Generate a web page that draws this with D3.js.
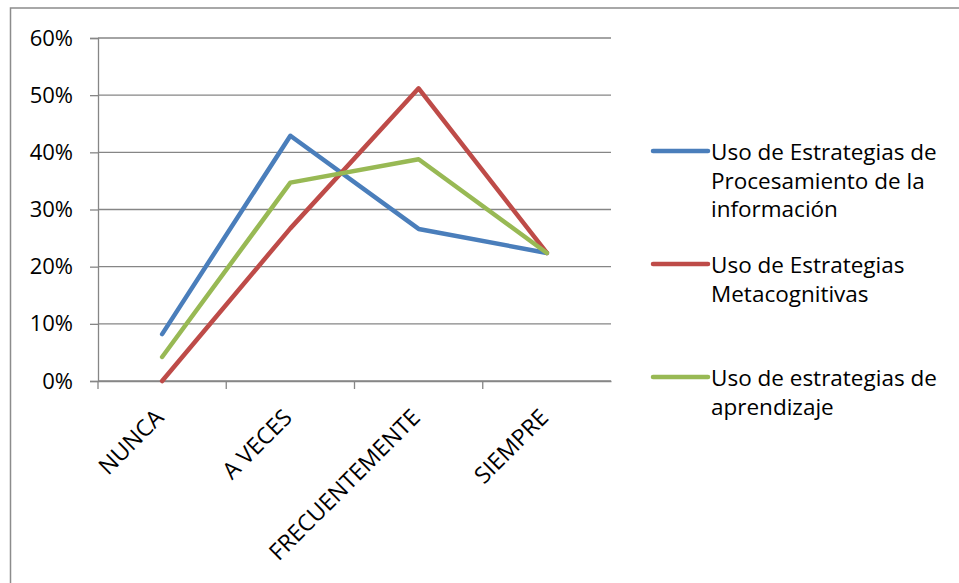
<!DOCTYPE html>
<html>
<head>
<meta charset="utf-8">
<script src="https://cdn.jsdelivr.net/npm/d3@7"></script>
<style>
  body { margin: 0; background: #fff; }
  svg { display: block; font-family: "Open Sans", sans-serif; }
</style>
</head>
<body>
<div></div>
<script>
var categories = ["NUNCA", "A VECES", "FRECUENTEMENTE", "SIEMPRE"];
var seriesNames = [
    ["Uso de Estrategias de", "Procesamiento de la", "información"],
    ["Uso de Estrategias", "Metacognitivas"],
    ["Uso de estrategias de", "aprendizaje"]
];
var procesamiento = [0.082, 0.429, 0.266, 0.224];
var metacognitivas = [0.0, 0.267, 0.512, 0.224];
var aprendizaje = [0.042, 0.347, 0.388, 0.224];
var yTicks = [0, 0.1, 0.2, 0.3, 0.4, 0.5, 0.6];
var colors = ["#4a7ebb", "#be4b48", "#98b954"];

var series = [procesamiento, metacognitivas, aprendizaje];

var width = 959;
var height = 583;
var plotLeft = 98, plotRight = 611, plotTop = 38, plotBottom = 381;

var svg = d3.select('div')
    .append('svg')
    .attr('width', width)
    .attr('height', height);

// marco del grafico
svg.append("rect")
    .attr("x", 10.5)
    .attr("y", 8)
    .attr("width", 1000)
    .attr("height", 700)
    .attr("fill", "none")
    .attr("stroke", "#8c8c8c")
    .attr("stroke-width", 1.5);

// escalas
var xscale = d3.scaleBand()
    .domain(categories)
    .range([plotLeft, plotRight]);

var yscale = d3.scaleLinear()
    .domain([0, 0.6])
    .range([plotBottom, plotTop]);

// lineas de cuadricula
svg.append("g")
    .selectAll("line")
    .data(yTicks)
    .enter()
    .append("line")
    .attr("x1", plotLeft)
    .attr("x2", plotRight)
    .attr("y1", d => yscale(d))
    .attr("y2", d => yscale(d))
    .attr("stroke", "#868686")
    .attr("stroke-width", 1.3);

// eje y
var yaxis = d3.axisLeft(yscale)
    .tickValues(yTicks)
    .tickFormat(d3.format(".0%"))
    .tickSize(8)
    .tickPadding(17);

var gy = svg.append("g")
    .attr("transform", "translate(" + plotLeft + ",0)")
    .call(yaxis);
gy.select(".domain").attr("stroke", "#868686").attr("stroke-width", 1.3);
gy.selectAll(".tick line").attr("stroke", "#868686").attr("stroke-width", 1.3);
gy.selectAll("text")
    .style("font-family", "Open Sans, sans-serif")
    .style("font-size", "22px")
    .attr("fill", "#000");

// eje x
var xaxis = d3.axisBottom(xscale)
    .tickSize(0)
    .tickFormat("");
var gx = svg.append("g")
    .attr("transform", "translate(0," + plotBottom + ")")
    .call(xaxis);
gx.select(".domain").attr("stroke", "#868686").attr("stroke-width", 1.3);

// marcas entre categorias
svg.append("g")
    .selectAll("line")
    .data(categories)
    .enter()
    .append("line")
    .attr("x1", d => xscale(d))
    .attr("x2", d => xscale(d))
    .attr("y1", plotBottom)
    .attr("y2", plotBottom + 8)
    .attr("stroke", "#868686")
    .attr("stroke-width", 1.3);

// etiquetas rotadas
svg.append("g")
    .selectAll("text")
    .data(categories)
    .enter()
    .append("text")
    .text(d => d)
    .style("font-size", "23px")
    .style("text-anchor", "end")
    .attr("transform", d => "translate(" + (xscale(d) + xscale.bandwidth() / 2 + 3) + "," + (plotBottom + 38) + ") rotate(-45)");

// lineas de series
var line = d3.line()
    .x((d, i) => xscale(categories[i]) + xscale.bandwidth() / 2)
    .y(d => yscale(d));

svg.append("g")
    .selectAll("path")
    .data(series)
    .enter()
    .append("path")
    .attr("d", d => line(d))
    .attr("fill", "none")
    .attr("stroke", (d, i) => colors[i])
    .attr("stroke-width", 4.5)
    .attr("stroke-linejoin", "round")
    .attr("stroke-linecap", "round");

// leyenda
var legendY = [151, 264, 377];
var legend = svg.append("g")
    .selectAll("g")
    .data(seriesNames)
    .enter()
    .append("g")
    .attr("transform", (d, i) => "translate(0," + legendY[i] + ")");

legend.append("line")
    .attr("x1", 653)
    .attr("x2", 708)
    .attr("y1", 0)
    .attr("y2", 0)
    .attr("stroke", (d, i) => colors[i])
    .attr("stroke-width", 4.5)
    .attr("stroke-linecap", "round");

// cada renglon como texto aparte
legend.selectAll("text")
    .data(d => d)
    .enter()
    .append("text")
    .style("font-size", "22.5px")
    .attr("x", 711)
    .attr("y", (d, j) => 9 + j * 28.5)
    .text(d => d);
</script>
</body>
</html>
